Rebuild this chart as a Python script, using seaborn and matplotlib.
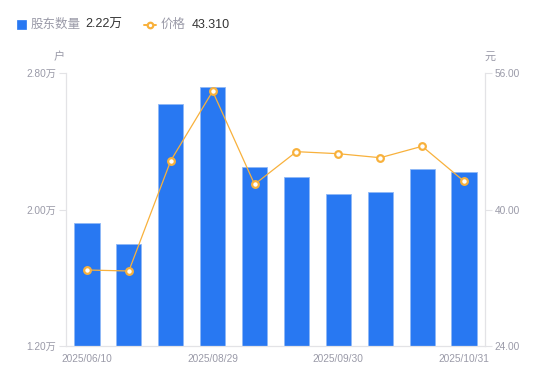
import numpy as np
import pandas as pd
import matplotlib
matplotlib.use("Agg")
import matplotlib.pyplot as plt
from matplotlib.patches import Rectangle
from matplotlib.lines import Line2D
import seaborn as sns

dates = ["2025/06/10", "2025/06/20", "2025/06/30", "2025/08/29", "2025/09/10",
         "2025/09/19", "2025/09/30", "2025/10/10", "2025/10/20", "2025/10/31"]
holders = [1.92, 1.80, 2.62, 2.72, 2.25, 2.19, 2.09, 2.10, 2.24, 2.22]   # 万户
price = [32.91, 32.79, 45.72, 53.86, 42.95, 46.78, 46.54, 46.07, 47.41, 43.31]
left_ticks = [1.20, 2.00, 2.80]
right_ticks = [24.00, 40.00, 56.00]
shown_dates = [dates[0], dates[3], dates[6], dates[9]]

sns.set_theme(style="white")
plt.rcParams['font.family'] = ['Liberation Sans', 'Noto Sans CJK SC', 'DejaVu Sans']

BLUE = "#2878f2"
ORANGE = "#f8b13c"
GRAY = "#9a9aa8"
AXIS = "#e3e3e6"

df = pd.DataFrame({"date": dates, "holders": holders, "price": price})
df["idx"] = np.arange(len(dates))

fig = plt.figure(figsize=(5.5, 3.81), dpi=100)
ax = fig.add_axes([66/550, 35/381, (485-66)/550, (346-73)/381])

sns.barplot(data=df, x="date", y="holders", color=BLUE, width=0.6, ax=ax,
            edgecolor="#8fb8f6", linewidth=0.6, saturation=1)
ax.set_ylim(left_ticks[0], left_ticks[-1])
ax.set_xlim(-0.5, len(dates) - 0.5)

ax2 = ax.twinx()
sns.lineplot(data=df, x="idx", y="price", ax=ax2, color=ORANGE, linewidth=0.9,
             marker="o", markersize=4.8, markerfacecolor="white",
             markeredgecolor=ORANGE, markeredgewidth=1.6)
ax2.set_ylim(right_ticks[0], right_ticks[-1])
ax.set_xlim(-0.5, len(dates) - 0.5)

# ticks
ax.set_yticks(left_ticks)
ax.set_yticklabels([f"{v:.2f}万" for v in left_ticks])
ax2.set_yticks(right_ticks)
ax2.set_yticklabels([f"{v:.2f}" for v in right_ticks])
ax.set_xticks([dates.index(d) for d in shown_dates])
ax.set_xticklabels(shown_dates)

ax.tick_params(axis="y", length=5, width=0.8, color=AXIS, labelcolor=GRAY,
               labelsize=7.3, pad=2, left=True)
ax2.tick_params(axis="y", length=5, width=0.8, color=AXIS, labelcolor=GRAY,
                labelsize=7.3, pad=2, right=True)
ax.tick_params(axis="x", length=0, labelcolor=GRAY, labelsize=7.3, pad=6)

for a in (ax, ax2):
    a.set_xlabel("")
    a.set_ylabel("")
    a.grid(False)
    a.spines["top"].set_visible(False)
    for s in ("left", "right", "bottom"):
        a.spines[s].set_color(AXIS)
        a.spines[s].set_linewidth(0.9)
ax.spines["right"].set_visible(False)
ax2.spines["left"].set_visible(False)
ax2.spines["bottom"].set_visible(False)

# unit labels
fig.text(59/550, 1 - 57/381, "户", color=GRAY, fontsize=8, ha="center", va="center")
fig.text(490/550, 1 - 57/381, "元", color=GRAY, fontsize=8, ha="center", va="center")

# legend
W, H = 550, 381
fig.patches.append(Rectangle((17/W, 1 - 29/H), 9/W, 9/H, transform=fig.transFigure,
                             facecolor=BLUE, edgecolor=BLUE, linewidth=0.5))
fig.text(31/W, 1 - 24.5/H, "股东数量", color=GRAY, fontsize=9, va="center", ha="left")
fig.text(85/W, 1 - 24.5/H, f"{holders[-1]:.2f}万", color="#333333", fontsize=9,
         va="center", ha="left")
fig.lines.append(Line2D([144/W, 156/W], [1 - 24.5/H, 1 - 24.5/H], transform=fig.transFigure,
                        color=ORANGE, linewidth=1.4))
fig.lines.append(Line2D([150/W], [1 - 24.5/H], transform=fig.transFigure,
                        color=ORANGE, marker="o", markersize=4, markerfacecolor="white",
                        markeredgecolor=ORANGE, markeredgewidth=1.6, linestyle="none"))
fig.text(161/W, 1 - 24.5/H, "价格", color=GRAY, fontsize=9, va="center", ha="left")
fig.text(192/W, 1 - 24.5/H, f"{price[-1]:.3f}", color="#333333", fontsize=9,
         va="center", ha="left")

fig.savefig("out.png", dpi=100)
